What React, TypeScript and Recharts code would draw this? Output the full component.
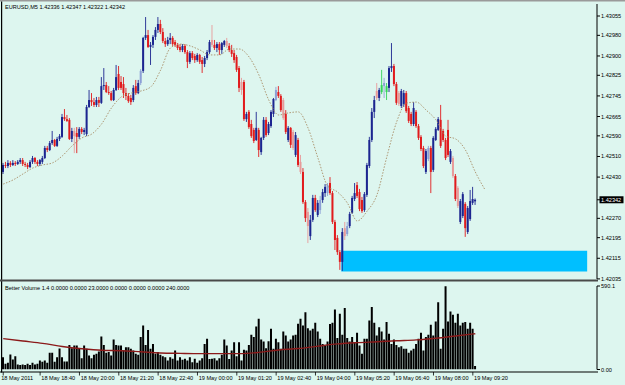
import React from "react";
import { ComposedChart, Bar, Line, XAxis, YAxis, ReferenceArea } from "recharts";

// EURUSD M5, 18 May 2011 17:25 -> 19 May 2011 09:25
// prices are kept in points above 1.42000 (477 means 1.42477)
const OPEN = [
  450, 477, 473, 485, 477, 485, 481, 489, 496, 481,
  477, 469, 489, 504, 489, 481, 489, 504, 543, 535,
  562, 574, 551, 578, 586, 663, 655, 652, 578, 609,
  601, 586, 617, 605, 597, 702, 729, 721, 710, 729,
  718, 783, 787, 760, 756, 729, 768, 830, 799, 791,
  756, 745, 737, 729, 783, 756, 795, 842, 970, 981,
  935, 943, 974, 1001, 1024, 993, 958, 946, 962, 970,
  954, 943, 935, 923, 939, 915, 877, 911, 900, 884,
  904, 884, 869, 892, 915, 962, 943, 931, 946, 923,
  943, 958, 939, 923, 911, 896, 853, 799, 799, 655,
  683, 636, 613, 574, 613, 527, 582, 652, 601, 628,
  675, 729, 760, 745, 729, 675, 574, 621, 605, 516,
  574, 489, 450, 333, 295, 201, 264, 349, 283, 302,
  341, 368, 368, 407, 368, 256, 194, 139, 101, 232,
  209, 240, 291, 345, 399, 372, 341, 302, 361, 473,
  574, 683, 764, 737, 760, 783, 760, 776, 853, 861,
  791, 756, 706, 714, 756, 698, 675, 636, 683, 628,
  586, 543, 450, 500, 543, 458, 574, 613, 652, 609,
  574, 613, 489, 504, 434, 388, 256, 279, 326, 217,
  267, 330, 336,
];
const HIGH = [
  485, 489, 496, 492, 496, 492, 496, 504, 504, 489,
  485, 496, 512, 508, 496, 500, 512, 551, 551, 570,
  609, 578, 586, 597, 675, 694, 671, 659, 621, 621,
  624, 624, 624, 621, 710, 768, 756, 737, 741, 741,
  818, 853, 799, 783, 764, 776, 865, 861, 822, 818,
  776, 756, 749, 787, 807, 807, 849, 974, 1051, 1001,
  954, 981, 1012, 1051, 1040, 1008, 970, 974, 989, 977,
  962, 950, 946, 946, 946, 923, 919, 919, 908, 911,
  908, 896, 900, 923, 962, 1020, 962, 954, 954, 954,
  962, 970, 950, 943, 923, 904, 861, 815, 807, 683,
  690, 652, 621, 683, 621, 586, 663, 663, 644, 690,
  737, 780, 783, 752, 737, 690, 628, 624, 613, 605,
  582, 516, 465, 341, 310, 283, 361, 361, 341, 357,
  384, 403, 407, 430, 376, 264, 205, 147, 232, 256,
  256, 295, 357, 407, 411, 384, 353, 372, 485, 586,
  698, 745, 795, 776, 846, 815, 795, 861, 950, 869,
  799, 764, 772, 768, 764, 706, 683, 721, 690, 636,
  593, 551, 539, 551, 551, 589, 624, 663, 710, 617,
  582, 652, 539, 512, 442, 395, 345, 372, 333, 318,
  380, 392, 347,
];
const LOW = [
  442, 465, 465, 469, 473, 473, 477, 481, 473, 469,
  461, 465, 481, 481, 473, 473, 481, 500, 527, 531,
  555, 547, 547, 570, 582, 648, 644, 574, 566, 523,
  523, 578, 597, 593, 589, 698, 706, 702, 702, 702,
  714, 768, 756, 749, 725, 725, 764, 768, 768, 737,
  729, 718, 710, 721, 749, 752, 787, 834, 962, 931,
  865, 931, 962, 989, 985, 950, 935, 939, 946, 939,
  935, 923, 915, 915, 908, 853, 869, 884, 873, 877,
  869, 834, 857, 884, 908, 935, 923, 915, 904, 908,
  935, 931, 915, 896, 873, 838, 760, 749, 648, 644,
  617, 582, 562, 570, 508, 516, 574, 586, 593, 621,
  663, 725, 737, 683, 652, 597, 566, 543, 535, 508,
  469, 442, 326, 256, 174, 186, 256, 295, 275, 287,
  330, 353, 357, 361, 248, 147, 128, 70, 66, 186,
  201, 232, 287, 337, 349, 298, 291, 295, 353, 465,
  566, 659, 729, 725, 752, 737, 729, 760, 838, 783,
  710, 706, 698, 702, 679, 640, 628, 628, 621, 574,
  531, 465, 442, 492, 368, 450, 570, 609, 543, 566,
  496, 508, 481, 427, 337, 310, 248, 271, 198, 209,
  260, 322, 322,
];
const CLOSE = [
  477, 473, 485, 477, 485, 481, 489, 496, 481, 477,
  469, 489, 504, 489, 481, 496, 504, 543, 535, 562,
  574, 551, 578, 589, 663, 655, 648, 578, 609, 589,
  586, 617, 605, 613, 702, 729, 721, 710, 729, 718,
  783, 787, 760, 756, 729, 768, 818, 776, 776, 756,
  745, 725, 721, 776, 756, 795, 842, 970, 981, 935,
  943, 974, 1001, 1024, 993, 958, 946, 962, 970, 946,
  943, 931, 923, 939, 915, 877, 911, 892, 884, 904,
  877, 869, 892, 915, 954, 943, 931, 946, 923, 950,
  958, 939, 923, 908, 884, 846, 776, 768, 655, 675,
  624, 589, 570, 621, 535, 582, 652, 593, 636, 683,
  733, 768, 745, 690, 659, 605, 621, 555, 543, 593,
  477, 450, 333, 271, 240, 264, 349, 302, 330, 341,
  372, 392, 399, 368, 256, 186, 139, 101, 217, 201,
  240, 287, 349, 368, 357, 306, 298, 364, 477, 574,
  683, 729, 737, 768, 787, 795, 783, 853, 861, 791,
  718, 714, 764, 756, 686, 648, 636, 698, 628, 582,
  539, 473, 531, 543, 450, 582, 617, 655, 551, 574,
  504, 516, 531, 434, 345, 318, 337, 364, 232, 310,
  337, 345, 342,
];
const VOLUME = [
  87, 40, 47, 106, 71, 94, 35, 31, 35, 31,
  40, 31, 47, 35, 40, 64, 54, 64, 47, 118,
  118, 54, 87, 148, 87, 57, 57, 174, 151, 170,
  170, 146, 80, 170, 146, 99, 80, 104, 111, 127,
  233, 174, 118, 123, 99, 212, 174, 170, 170, 134,
  158, 158, 146, 134, 111, 104, 229, 311, 174, 280,
  146, 181, 111, 123, 104, 94, 87, 64, 87, 76,
  134, 64, 87, 69, 76, 64, 87, 52, 76, 47,
  64, 80, 181, 217, 75, 76, 80, 64, 80, 104,
  212, 170, 75, 134, 193, 94, 193, 64, 139, 134,
  174, 245, 229, 304, 358, 212, 198, 151, 200, 288,
  146, 217, 193, 146, 269, 240, 198, 212, 240, 245,
  323, 358, 311, 405, 292, 276, 288, 330, 269, 217,
  181, 170, 198, 321, 330, 424, 222, 394, 245, 434,
  222, 198, 229, 193, 259, 170, 111, 217, 217, 346,
  441, 330, 240, 299, 269, 212, 335, 252, 181, 212,
  174, 158, 165, 146, 146, 118, 134, 146, 181, 217,
  259, 134, 229, 245, 316, 240, 339, 476, 146, 288,
  589, 339, 410, 387, 330, 394, 311, 330, 335, 288,
  330, 288, 24,
];
// price moving average, one reading every 4th bar (it runs a few bars past the last candle)
const PRICE_MA = [
  403, 419, 442, 465, 477, 485, 512, 551, 582, 597,
  636, 698, 741, 756, 764, 780, 845, 931, 946, 939,
  923, 904, 904, 927, 927, 896, 826, 729, 671, 679,
  683, 620, 504, 395, 372, 329, 260, 298, 361, 508,
  644, 717, 721, 690, 652, 589, 578, 535, 450, 380,
];
// volume moving average, one reading every 8th bar
const VOLUME_MA = [
  218, 201, 185, 163, 147, 136, 133, 125, 117, 114,
  112, 112, 112, 121, 138, 148, 165, 181, 190, 196,
  203, 209, 221, 237, 253,
];
const PALE_BARS = [29, 56, 85, 91, 97, 111, 114, 118, 121, 124, 129, 132, 139, 140, 152, 155, 161, 173, 183, 185];
const CLIMAX_BARS = [154, 156];

const PRICE_TICKS = [1.43055, 1.4298, 1.429, 1.42825, 1.42745, 1.42665, 1.4259, 1.4251, 1.4243, 1.4227, 1.42195, 1.42115, 1.42035];
const TIME_TICK_BARS = [0, 15, 31, 47, 63, 79, 95, 111, 127, 143, 159, 175, 191];
const TIME_TICK_LABELS = [
  "18 May 2011", "18 May 18:40", "18 May 20:00", "18 May 21:20", "18 May 22:40",
  "19 May 00:00", "19 May 01:20", "19 May 02:40", "19 May 04:00", "19 May 05:20",
  "19 May 06:40", "19 May 08:00", "19 May 09:20",
];
const VOLUME_TICKS = [0, 590.1];
const ZONE_BARS = [138, 237];
const ZONE_PRICES = [1.42064, 1.42144];

const SLOTS = 242;
const W = 625;
const BG = "#ddf6ef";
const FONT = "'Liberation Sans', Arial, sans-serif";
const FS = 5.6;
const BULL = "#1c2590";
const BEAR = "#e11b1d";
const PALE_BULL = "#8c9fd6";
const PALE_BEAR = "#e89a9a";
const CLIMAX = "#35d35a";

const px = (p: number) => 1.42 + p / 100000;
const lastI = CLOSE.length - 1;
const LAST_CLOSE = px(CLOSE[lastI]);

const rows = Array.from({ length: SLOTS }, (_, i) => {
  const has = i <= lastI;
  const ma = i % 4 === 0 && PRICE_MA[i / 4] != null ? px(PRICE_MA[i / 4]) : null;
  const vma = i % 8 === 0 && VOLUME_MA[i / 8] != null ? VOLUME_MA[i / 8] : null;
  return {
    i,
    o: has ? px(OPEN[i]) : null,
    h: has ? px(HIGH[i]) : null,
    l: has ? px(LOW[i]) : null,
    c: has ? px(CLOSE[i]) : null,
    range: has ? [px(LOW[i]), px(HIGH[i])] : null,
    vol: has ? VOLUME[i] : null,
    ma,
    vma,
  };
});

function Candle(props: any) {
  const { x, y, width, height, payload } = props;
  if (!payload || payload.o == null || height == null) return null;
  const { o, h, l, c, i } = payload;
  const k = h > l ? height / (h - l) : 0;
  const cx = x + width / 2;
  const top = y + (h - Math.max(o, c)) * k;
  const bodyH = Math.max(1, Math.abs(o - c) * k);
  const up = c >= o;
  let color = up ? BULL : BEAR;
  if (CLIMAX_BARS.includes(i)) color = CLIMAX;
  else if (PALE_BARS.includes(i)) color = up ? PALE_BULL : PALE_BEAR;
  return (
    <g>
      <line x1={cx} x2={cx} y1={y} y2={y + height} stroke={color} strokeWidth={0.9} />
      <rect x={cx - 1} y={top} width={2} height={bodyH} fill={color} />
    </g>
  );
}

function PriceTick(props: any) {
  const { x, y, payload } = props;
  const v = payload.value;
  const label = v.toFixed(5);
  if (Math.abs(v - LAST_CLOSE) < 1e-7) {
    return (
      <g>
        <rect x={x - 1.5} y={y - 3.5} width={24} height={7} fill="#000" />
        <text x={x} y={y} dy={2} fontSize={FS} fontFamily={FONT} fill="#fff">{label}</text>
      </g>
    );
  }
  return (
    <text x={x} y={y} dy={2} fontSize={FS} fontFamily={FONT} fill="#000">{label}</text>
  );
}

function VolumeTick(props: any) {
  const { x, y, payload } = props;
  const label = payload.value === 0 ? "0.00" : String(payload.value);
  return (
    <text x={x} y={y} dy={2} fontSize={FS} fontFamily={FONT} fill="#000">{label}</text>
  );
}

function TimeTick(props: any) {
  const { x, y, payload } = props;
  const k = TIME_TICK_BARS.indexOf(payload.value);
  if (k < 0) return null;
  return (
    <g>
      <line x1={x} x2={x} y1={y + 2.5} y2={y + 6} stroke="#000" strokeWidth={0.8} />
      <text x={k === 0 ? x - 2 : x + 1.2} y={y + 10.8} fontSize={FS} fontFamily={FONT} fill="#000">
        {TIME_TICK_LABELS[k]}
      </text>
    </g>
  );
}

export default function App() {
  const title = `EURUSD,M5  ${px(OPEN[lastI]).toFixed(5)} ${px(HIGH[lastI]).toFixed(5)} ${px(LOW[lastI]).toFixed(5)} ${LAST_CLOSE.toFixed(5)}`;
  return (
    <div style={{ position: "absolute", left: 0, top: 0, width: W, height: 385, background: BG, overflow: "hidden" }}>
      <div style={{ position: "absolute", left: 0, top: 0 }}>
        <ComposedChart width={W} height={285} data={rows} margin={{ top: 4, right: 0, bottom: 6, left: 2 }} barGap={0}>
          <XAxis dataKey="i" type="category" hide />
          <YAxis
            orientation="right"
            width={28}
            type="number"
            domain={[1.420346, 1.431016]}
            allowDataOverflow
            ticks={[...PRICE_TICKS, LAST_CLOSE]}
            interval={0}
            tick={<PriceTick />}
            tickSize={3}
            tickMargin={1}
            axisLine={{ stroke: "#000" }}
            tickLine={{ stroke: "#000" }}
          />
          <ReferenceArea
            x1={ZONE_BARS[0]}
            x2={ZONE_BARS[1]}
            y1={ZONE_PRICES[0]}
            y2={ZONE_PRICES[1]}
            fill="#00bfff"
            fillOpacity={1}
            stroke="none"
            ifOverflow="visible"
          />
          <Line
            dataKey="ma"
            type="monotone"
            connectNulls
            dot={false}
            stroke="#a88d66"
            strokeWidth={0.9}
            strokeDasharray="1.5 1.5"
            isAnimationActive={false}
          />
          <Bar dataKey="range" barSize={2} shape={(p: any) => <Candle {...p} />} isAnimationActive={false} />
        </ComposedChart>
      </div>

      <div style={{ position: "absolute", left: 0, top: 280 }}>
        <ComposedChart width={W} height={105} data={rows} margin={{ top: 6, right: 0, bottom: 0.5, left: 2 }} barGap={0}>
          <XAxis
            dataKey="i"
            type="category"
            height={15}
            ticks={TIME_TICK_BARS}
            interval={0}
            tick={<TimeTick />}
            tickSize={0}
            tickMargin={0}
            tickLine={false}
            axisLine={false}
          />
          <YAxis
            orientation="right"
            width={28}
            type="number"
            domain={[0, 590.1]}
            allowDataOverflow
            ticks={VOLUME_TICKS}
            interval={0}
            tick={<VolumeTick />}
            tickSize={3}
            tickMargin={1}
            axisLine={{ stroke: "#000" }}
            tickLine={{ stroke: "#000" }}
          />
          <Bar dataKey="vol" barSize={2} fill="#000" isAnimationActive={false} />
          <Line
            dataKey="vma"
            type="monotone"
            connectNulls
            dot={false}
            stroke="#8b1a1a"
            strokeWidth={1.4}
            isAnimationActive={false}
          />
        </ComposedChart>
      </div>

      <svg width={W} height={385} style={{ position: "absolute", left: 0, top: 0, pointerEvents: "none" }}>
        <rect x={0} y={0} width={W} height={1.5} fill="#9a9a9a" />
        <rect x={1} y={1.5} width={1.2} height={371} fill="#000" />
        <rect x={0} y={279.5} width={598} height={2} fill="#4a4a4a" />
        <rect x={0} y={371.5} width={598} height={1} fill="#000" />
        <text x={5} y={8.8} fontSize={FS} fontFamily={FONT} fill="#000">{title}</text>
        <text x={5} y={290} fontSize={FS} fontFamily={FONT} fill="#000">
          Better Volume 1.4 0.0000 0.0000 23.0000 0.0000 0.0000 0.0000 240.0000
        </text>
      </svg>
    </div>
  );
}
